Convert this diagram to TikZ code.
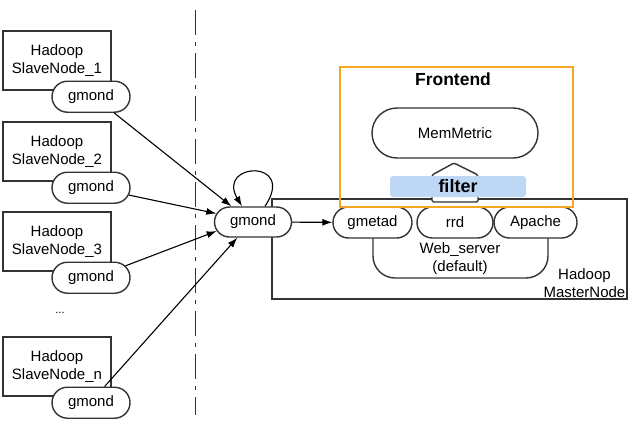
\documentclass[tikz,border=0pt]{standalone}
\usepackage{fontspec}
\setmainfont{Liberation Sans}
\usetikzlibrary{calc,shapes.misc,arrows.meta}
\definecolor{frontorange}{HTML}{F5A623}
\definecolor{filterblue}{HTML}{BDD7F4}
\definecolor{linegray}{HTML}{333333}

\begin{document}
\begin{tikzpicture}[x=1pt,y=-1pt,
    every node/.style={font=\fontsize{15}{18}\selectfont},
    slave/.style={draw=linegray,line width=1.4pt,minimum width=108pt,minimum height=59pt,align=center,inner sep=0pt},
    pill/.style={draw=linegray,line width=1.4pt,rounded rectangle,fill=white,minimum height=31pt,inner sep=0pt},
    link/.style={line width=1.1pt,-{Latex[length=10pt,width=7pt]}}]

\useasboundingbox (0,0) rectangle (636,423);

% slave nodes on the left
\foreach \i/\y in {1/60.5,2/151.5,3/241.5,n/366.5} {
  \node[slave] (s\i) at (57,\y) {Hadoop\\SlaveNode\_\i};
  \node[pill,minimum width=78pt] (g\i) at ($(s\i.south)+(34,6)$) {gmond};
}
\node[font=\fontsize{11}{12}\selectfont] (dots) at (60,313) {...};

\draw[draw=linegray,line width=1pt,dash pattern=on 25pt off 7pt on 4pt off 7pt] (195,10) -- (195,415);

% master node
\draw[draw=linegray,line width=1.4pt] (272,199) rectangle (627,299);
\node[align=center,anchor=south east,inner sep=1.5pt] (mn) at (627,299) {Hadoop\\MasterNode};
\draw[draw=linegray,line width=1.4pt,rounded corners=22pt] (373,225) -- (373,278) -- (548,278) -- (548,225);
\node[align=center] (ws) at (460,259) {Web\_server\\(default)};
\node[pill,minimum width=79pt] (gmetad) at (372.5,222.5) {gmetad};
\node[pill,minimum width=76pt] (rrd) at (455,222.5) {rrd};
\node[pill,minimum width=83pt] (apache) at (535.5,222.5) {Apache};

% frontend
\draw[frontorange,line width=1.5pt] (340,67) rectangle (573,207);
\node[font=\bfseries\fontsize{17.5}{20}\selectfont] (fe) at (453,79) {Frontend};
\node[pill,minimum width=166pt,minimum height=50pt] (mm) at (455,133) {MemMetric};
\draw[draw=linegray,line width=1.4pt,fill=white,rounded corners=1.5pt] (432,202) -- (432,175) -- (454,163) -- (478,175) -- (478,202) -- cycle;
\node[fill=filterblue,rounded corners=3pt,minimum width=136pt,minimum height=21pt,inner sep=0pt,font=\bfseries\fontsize{18}{20}\selectfont] (flt) at (458,186.5) {filter};

% central gmond
\node[pill,minimum width=77pt,minimum height=30pt] (gm) at (253,222) {gmond};

\draw[link] (g1.-35) -- (gm.144);
\draw[link] (g2.-11) -- (gm.167);
\draw[link] (g3.19) -- (gm.-166);
\draw[link] (gn.50) -- (gm.-135);
\draw[link] (gm) -- (gmetad);
\draw[link] ([xshift=12pt]gm.north) .. controls +(32,-48) and +(-26,-44) .. ([xshift=-11pt]gm.north);
\end{tikzpicture}
\end{document}
